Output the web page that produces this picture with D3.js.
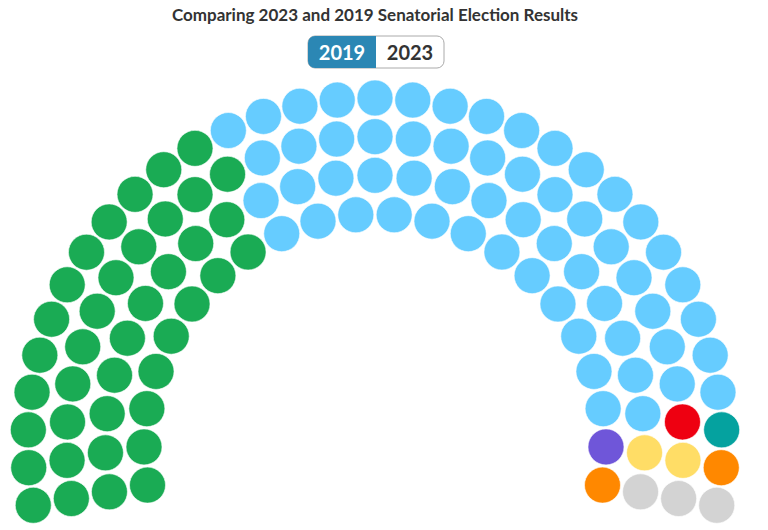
<!DOCTYPE html>
<html>
<head>
<meta charset="utf-8">
<script src="https://cdn.jsdelivr.net/npm/d3@7"></script>
<style>
  body { margin: 0; background: #fff; }
  svg { display: block; }
</style>
</head>
<body>
<div id="chart"><svg></svg></div>
<script>
let width = 768;
let height = 530;

// seats per party, in the order they are seated (left to right)
let parties = ['Party A', 'Party B', 'Party C', 'Party D', 'Party E', 'Party F', 'Party G', 'Undeclared'];
let seats = [40, 59, 1, 1, 1, 2, 2, 3];
let colors = ['#1aab54', '#66ccff', '#ee0011', '#05a29f', '#6f56d9', '#ffdd66', '#ff8800', '#d3d3d3'];
let years = ['2019', '2023'];
let activeYear = '2019';

let cx = 375, cy = 445;
let rowCount = 4;
let seatR = 18;

function draw_chart() {
    let svg = d3.select('#chart').select('svg')
        .attr('width', width)
        .attr('height', height);

    svg.append('text')
        .attr('x', 375)
        .attr('y', 21)
        .attr('text-anchor', 'middle')
        .style('font-family', 'Lato, sans-serif')
        .style('font-weight', 'bold')
        .style('font-size', '17px')
        .style('fill', '#333')
        .text('Comparing 2023 and 2019 Senatorial Election Results');

    // toggle
    let btnW = 68, btnH = 32, btnX = 308, btnY = 36;
    let btn = svg.append('g');
    btn.append('rect')
        .attr('x', btnX).attr('y', btnY)
        .attr('width', btnW * 2).attr('height', btnH)
        .attr('rx', 7)
        .attr('fill', '#fff')
        .attr('stroke', '#aaa');
    btn.append('path')
        .attr('d', `M${btnX + btnW},${btnY} H${btnX + 7} A7,7 0 0 0 ${btnX},${btnY + 7} V${btnY + btnH - 7} A7,7 0 0 0 ${btnX + 7},${btnY + btnH} H${btnX + btnW} Z`)
        .attr('fill', '#2b87b4');
    btn.selectAll('text')
        .data(years)
        .join('text')
        .attr('x', (d, i) => btnX + btnW / 2 + i * btnW)
        .attr('y', btnY + 23.5)
        .attr('text-anchor', 'middle')
        .style('font-family', 'Lato, sans-serif')
        .style('font-weight', 'bold')
        .style('font-size', '20px')
        .style('fill', d => d === activeYear ? '#fff' : '#333')
        .text(d => d);

    // rows of the hemicycle, seats per row proportional to radius
    let total = d3.sum(seats);
    let radius = d3.scaleLinear().domain([0, rowCount - 1]).range([231, 347]);
    let radii = d3.range(rowCount).map(radius);
    let sumR = d3.sum(radii);
    let perRow = radii.map(r => Math.round(total * r / sumR));
    perRow[rowCount - 1] += total - d3.sum(perRow);

    let slots = [];
    radii.forEach((r, row) => {
        let angle = d3.scaleLinear().domain([0, perRow[row] - 1]).range([-100, 100]);
        d3.range(perRow[row]).forEach(k => {
            slots.push({row: row, r: r, a: angle(k)});
        });
    });
    // seat parties in angle order, inner row first on ties
    slots.sort((p, q) => (Math.round(p.a * 1e4) - Math.round(q.a * 1e4)) || (p.row - q.row));

    let owner = [];
    seats.forEach((n, i) => { for (let j = 0; j < n; j++) owner.push(i); });
    slots.forEach((s, i) => {
        s.party = owner[i];
        let rad = s.a * Math.PI / 180;
        s.x = cx + s.r * Math.sin(rad);
        s.y = cy - s.r * Math.cos(rad);
    });

    svg.append('g')
        .selectAll('circle')
        .data(slots)
        .join('circle')
        .attr('cx', d => d.x)
        .attr('cy', d => d.y)
        .attr('r', seatR)
        .attr('fill', d => colors[d.party])
        .attr('stroke', '#fff')
        .attr('stroke-width', 0.6)
        .append('title')
        .text(d => parties[d.party]);
}

draw_chart();
</script>
</body>
</html>
